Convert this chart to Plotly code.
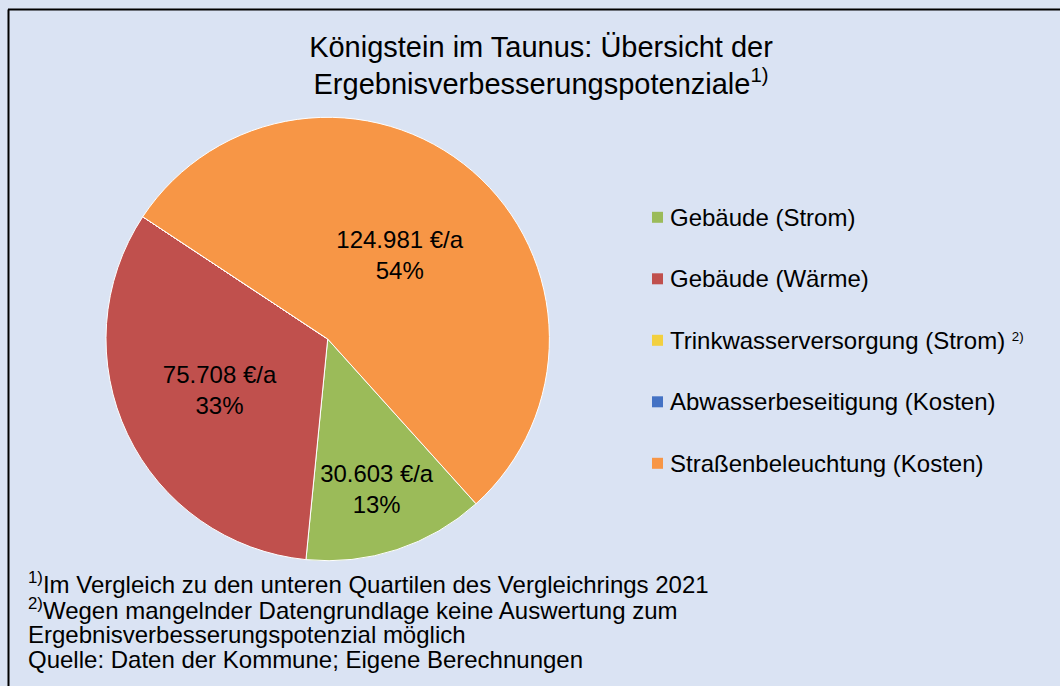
import plotly.graph_objects as go

# ---- data ----
labels = ["Gebäude (Strom)", "Gebäude (Wärme)", "Trinkwasserversorgung (Strom)",
          "Abwasserbeseitigung (Kosten)", "Straßenbeleuchtung (Kosten)"]
legend_suffix = ["", "", " <span style='font-size:19px'><sup>2)</sup></span>", "", ""]
values = [30603, 75708, 0, 0, 124981]
colors = ["#9BBB59", "#C0504D", "#F2D03F", "#4472C4", "#F79646"]

title_text = "Königstein im Taunus: Übersicht der<br>Ergebnisverbesserungspotenziale<sup>1)</sup>"
footnotes = [
    "<sup>1)</sup>Im Vergleich zu den unteren Quartilen des Vergleichrings 2021",
    "<sup>2)</sup>Wegen mangelnder Datengrundlage keine Auswertung zum",
    "Ergebnisverbesserungspotenzial möglich",
    "Quelle: Daten der Kommune; Eigene Berechnungen",
]

W, H = 1060, 686
FONT = "Liberation Sans, Arial, sans-serif"

fig = go.Figure()
fig.add_trace(go.Pie(
    labels=labels,
    values=values,
    sort=False,
    direction="clockwise",
    rotation=138,
    marker=dict(colors=colors, line=dict(color="white", width=1)),
    texttemplate="%{value:,.0f} €/a<br>%{percent:.0%}",
    textposition="inside",
    insidetextorientation="horizontal",
    textfont=dict(family=FONT, size=24, color="black"),
    domain=dict(x=[(327.7 - 221.7) / W, (327.7 + 221.7) / W],
                y=[(H - 339 - 221.7) / H, (H - 339 + 221.7) / H]),
    showlegend=False,
    hoverinfo="label+value+percent",
))

shapes = []
annotations = []

# manual legend
leg_y0, leg_step = 217.3, 61.5
for i, (lab, col) in enumerate(zip(labels, colors)):
    yc = leg_y0 + i * leg_step
    shapes.append(dict(type="rect", xref="paper", yref="paper",
                       x0=652 / W, x1=663 / W,
                       y0=1 - (yc + 5.5) / H, y1=1 - (yc - 5.5) / H,
                       fillcolor=col, line=dict(width=0)))
    annotations.append(dict(xref="paper", yref="paper", x=668 / W, y=1 - yc / H,
                            xanchor="left", yanchor="middle", showarrow=False,
                            text=lab + legend_suffix[i],
                            font=dict(family=FONT, size=24, color="black")))

# footnotes
foot_y0, foot_step = 583, 25.5
for i, t in enumerate(footnotes):
    annotations.append(dict(xref="paper", yref="paper", x=26 / W, y=1 - (foot_y0 + i * foot_step) / H,
                            xanchor="left", yanchor="middle", showarrow=False, text=t,
                            font=dict(family=FONT, size=24, color="black")))

# border (top and left visible)
shapes.append(dict(type="line", xref="paper", yref="paper", x0=8 / W, x1=1.01,
                   y0=1 - 9.5 / H, y1=1 - 9.5 / H, line=dict(color="black", width=2)))
shapes.append(dict(type="line", xref="paper", yref="paper", x0=8.5 / W, x1=8.5 / W,
                   y0=1 - 9.5 / H, y1=-0.01, line=dict(color="black", width=2)))

fig.update_layout(
    width=W, height=H,
    margin=dict(l=0, r=0, t=0, b=0),
    paper_bgcolor="#DAE3F3",
    plot_bgcolor="#DAE3F3",
    separators=",.",
    title=dict(text=title_text, x=541 / W, xanchor="center", y=1 - 56.5 / H, yanchor="middle",
               yref="container", font=dict(family=FONT, size=29, color="black")),
    shapes=shapes,
    annotations=annotations,
    showlegend=False,
)

fig.write_html("out.html", config={"displayModeBar": False},
               post_script="document.body.style.margin='0px';")
